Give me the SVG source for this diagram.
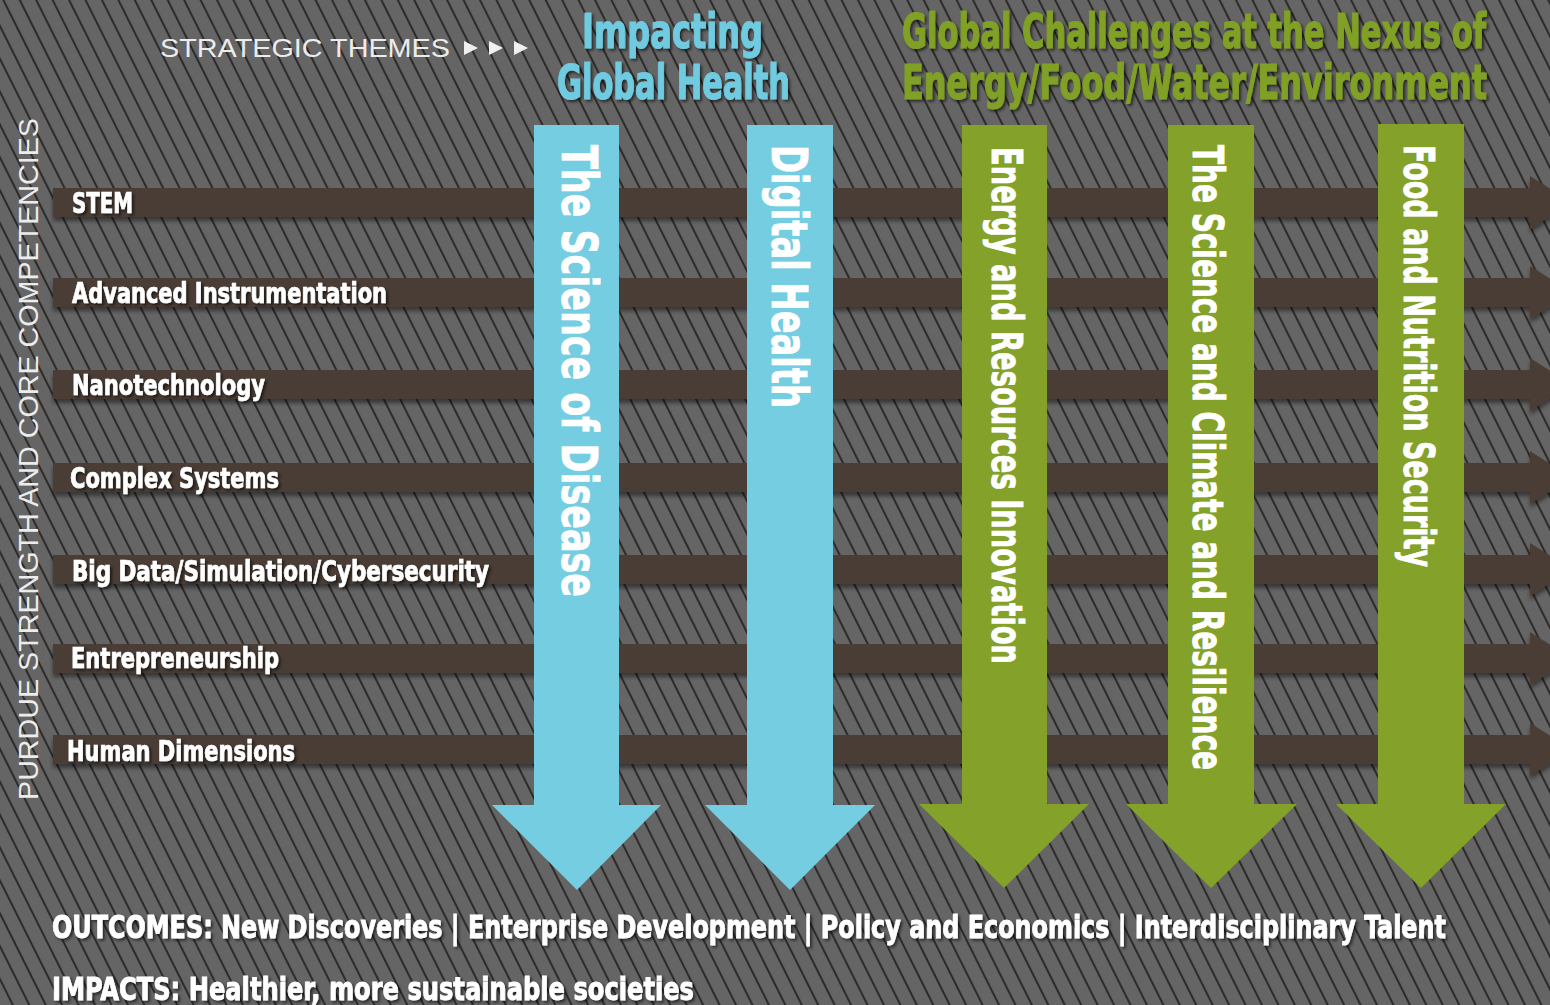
<svg xmlns="http://www.w3.org/2000/svg" width="1550" height="1005" viewBox="0 0 1550 1005">
<defs>
  <pattern id="hatch" width="14.7" height="40" patternUnits="userSpaceOnUse" patternTransform="rotate(-26.57)">
    <rect width="14.7" height="40" fill="#656565"/>
    <line x1="3" y1="-1" x2="3" y2="41" stroke="#2c2a28" stroke-width="2"/>
  </pattern>
  <filter id="barShadow" x="-5%" y="-50%" width="110%" height="200%">
    <feDropShadow dx="0" dy="4" stdDeviation="2.2" flood-color="#000" flood-opacity="0.45"/>
  </filter>
  <filter id="txtShadow" x="-10%" y="-40%" width="120%" height="180%">
    <feDropShadow dx="2" dy="2" stdDeviation="1.6" flood-color="#000" flood-opacity="0.6"/>
  </filter>
  <style>
    .bar { fill: #4a3c34; }
    .blue { fill: #75cde1; }
    .green { fill: #84a22a; }
    .cond { font-family: 'Liberation Sans Narrow', 'DejaVu Sans Condensed', 'Roboto Condensed', 'Liberation Sans', sans-serif; font-weight: bold; font-stretch: condensed; }
    .bartxt { font-size: 28px; fill: #ffffff; stroke: #ffffff; stroke-width: 0.7px; }
    .coltxt { fill: #ffffff; stroke: #ffffff; stroke-width: 0.8px; }
    .title-b { font-size: 48px; fill: #70cbe0; stroke: #70cbe0; stroke-width: 1.1px; }
    .title-g { font-size: 48px; fill: #80a125; stroke: #80a125; stroke-width: 1.1px; }
    .bottom { font-size: 32px; fill: #ffffff; stroke: #ffffff; stroke-width: 0.8px; }
    .plain { font-family: 'Liberation Sans', Arial, sans-serif; fill: #ececec; }
  </style>
</defs>

<rect x="0" y="0" width="1550" height="1005" fill="url(#hatch)"/>

<g id="connectors">
  <g id="bar-stem" filter="url(#barShadow)">
    <path class="bar" d="M53,188 H1530 V176 L1572,202.5 L1530,229 V217 H53 Z"/>
  </g>
  <g id="bar-adv" filter="url(#barShadow)">
    <path class="bar" d="M53,278 H1530 V266 L1572,292.5 L1530,319 V307 H53 Z"/>
  </g>
  <g id="bar-nano" filter="url(#barShadow)">
    <path class="bar" d="M53,370 H1530 V358 L1572,384.5 L1530,411 V399 H53 Z"/>
  </g>
  <g id="bar-complex" filter="url(#barShadow)">
    <path class="bar" d="M53,463 H1530 V451 L1572,477.5 L1530,504 V492 H53 Z"/>
  </g>
  <g id="bar-bigdata" filter="url(#barShadow)">
    <path class="bar" d="M53,555 H1530 V543 L1572,569.5 L1530,596 V584 H53 Z"/>
  </g>
  <g id="bar-entre" filter="url(#barShadow)">
    <path class="bar" d="M53,644 H1530 V632 L1572,658.5 L1530,685 V673 H53 Z"/>
  </g>
  <g id="bar-human" filter="url(#barShadow)">
    <path class="bar" d="M53,735 H1530 V723 L1572,749.5 L1530,776 V764 H53 Z"/>
  </g>
</g>

<g id="competency-labels" class="cond bartxt" filter="url(#txtShadow)">
  <text x="72" y="213" textLength="61" lengthAdjust="spacingAndGlyphs">STEM</text>
  <text x="72" y="303" textLength="315" lengthAdjust="spacingAndGlyphs">Advanced Instrumentation</text>
  <text x="72" y="395" textLength="193" lengthAdjust="spacingAndGlyphs">Nanotechnology</text>
  <text x="70" y="488" textLength="209" lengthAdjust="spacingAndGlyphs">Complex Systems</text>
  <text x="72" y="581" textLength="417" lengthAdjust="spacingAndGlyphs">Big Data/Simulation/Cybersecurity</text>
  <text x="71" y="668" textLength="208" lengthAdjust="spacingAndGlyphs">Entrepreneurship</text>
  <text x="67" y="761" textLength="228" lengthAdjust="spacingAndGlyphs">Human Dimensions</text>
</g>

<g id="theme-disease">
  <polygon class="blue" points="534,125 619,125 619,805 661,805 577,890 492,805 534,805"/>
  <text class="cond coltxt" font-size="50" transform="translate(562,145) rotate(90)" textLength="452" lengthAdjust="spacingAndGlyphs">The Science of Disease</text>
</g>
<g id="theme-digital">
  <polygon class="blue" points="747,125 833,125 833,805 875,805 790,890 705,805 747,805"/>
  <text class="cond coltxt" font-size="50" transform="translate(772,145) rotate(90)" textLength="263" lengthAdjust="spacingAndGlyphs">Digital Health</text>
</g>
<g id="theme-energy">
  <polygon class="green" points="962,125 1047,125 1047,804 1089,804 1004,888 919,804 962,804"/>
  <text class="cond coltxt" font-size="42" transform="translate(992,147) rotate(90)" textLength="517" lengthAdjust="spacingAndGlyphs">Energy and Resources Innovation</text>
</g>
<g id="theme-climate">
  <polygon class="green" points="1168,125 1254,125 1254,804 1297,804 1211,888 1126,804 1168,804"/>
  <text class="cond coltxt" font-size="42" transform="translate(1193,145) rotate(90)" textLength="625" lengthAdjust="spacingAndGlyphs">The Science and Climate and Resilience</text>
</g>
<g id="theme-food">
  <polygon class="green" points="1378,124 1464,124 1464,804 1506,804 1421,888 1336,804 1378,804"/>
  <text class="cond coltxt" font-size="42" transform="translate(1404,145) rotate(90)" textLength="422" lengthAdjust="spacingAndGlyphs">Food and Nutrition Security</text>
</g>

<g id="header">
  <text class="plain" x="160" y="57" font-size="26" textLength="290" lengthAdjust="spacingAndGlyphs">STRATEGIC  THEMES</text>
  <polygon fill="#f0f0f0" points="464,41 478,48 464,55"/>
  <polygon fill="#f0f0f0" points="489,41 503,48 489,55"/>
  <polygon fill="#f0f0f0" points="514,41 528,48 514,55"/>
</g>

<g id="title-health" class="cond title-b" filter="url(#txtShadow)">
  <text x="582" y="48" textLength="181" lengthAdjust="spacingAndGlyphs">Impacting</text>
  <text x="557" y="99" textLength="233" lengthAdjust="spacingAndGlyphs">Global Health</text>
</g>
<g id="title-nexus" class="cond title-g" filter="url(#txtShadow)">
  <text x="902" y="48" textLength="584" lengthAdjust="spacingAndGlyphs">Global Challenges at the Nexus of</text>
  <text x="902" y="99" textLength="585" lengthAdjust="spacingAndGlyphs">Energy/Food/Water/Environment</text>
</g>

<g id="side-label">
  <text class="plain" font-size="28" transform="translate(38,800) rotate(-90)" textLength="682" lengthAdjust="spacingAndGlyphs">PURDUE STRENGTH AND CORE COMPETENCIES</text>
</g>

<g id="outcomes" class="cond bottom" filter="url(#txtShadow)">
  <text x="52" y="938" textLength="1394" lengthAdjust="spacingAndGlyphs">OUTCOMES: New Discoveries | Enterprise Development | Policy and Economics | Interdisciplinary Talent</text>
  <text x="52" y="1000" textLength="642" lengthAdjust="spacingAndGlyphs">IMPACTS: Healthier, more sustainable societies</text>
</g>
</svg>
